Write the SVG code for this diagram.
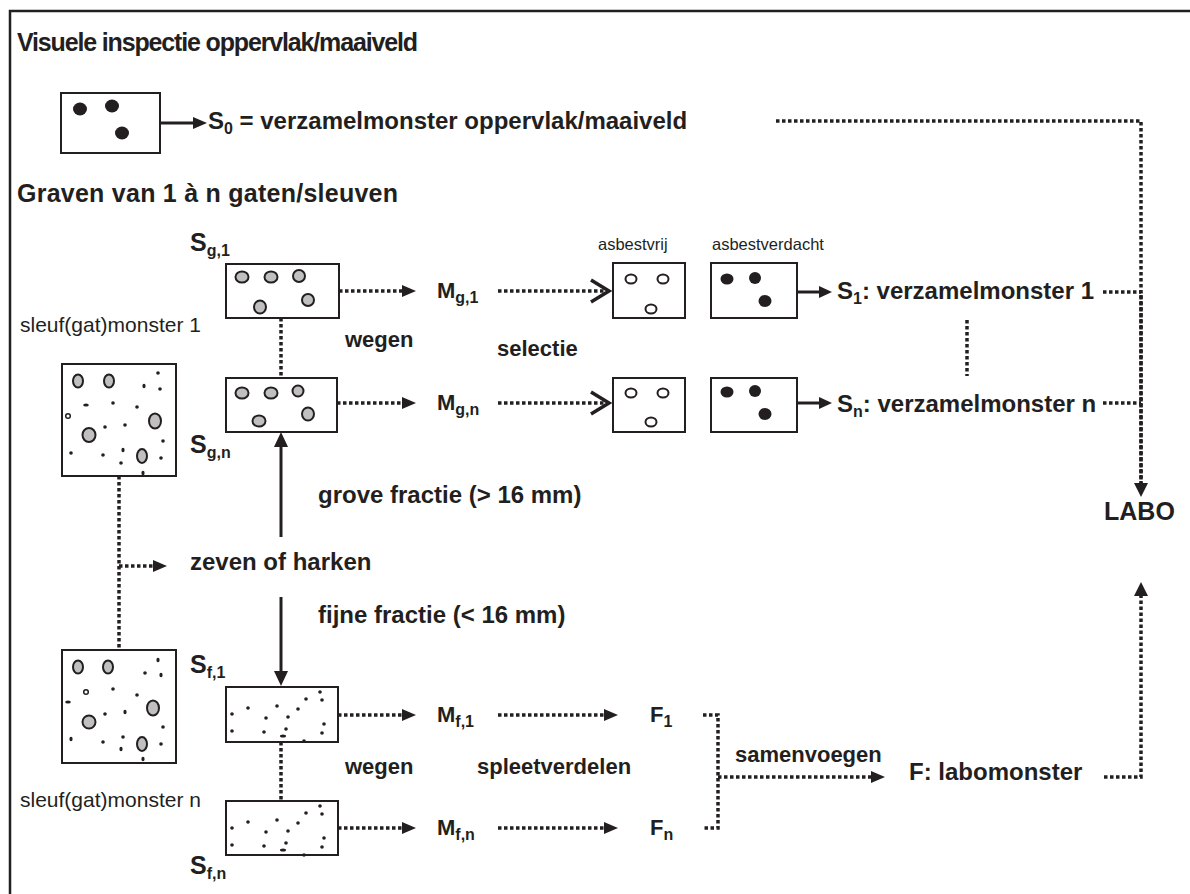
<svg xmlns="http://www.w3.org/2000/svg" width="1190" height="894" viewBox="0 0 1190 894">
<style>
text{font-family:"Liberation Sans",Arial,sans-serif;fill:#231f20}
.t{font-size:25px;font-weight:bold}
.l{font-size:22px;font-weight:bold}
.L{font-size:24px;font-weight:bold}
.n{font-size:16.5px}
.m{font-size:21px}
.sub{font-size:16px}
.box{fill:#fff;stroke:#231f20;stroke-width:2}
.g{fill:#c0c0c0;stroke:#231f20;stroke-width:2}
.o{fill:#fff;stroke:#231f20;stroke-width:2}
.k{fill:#231f20}
.dot{fill:none;stroke:#231f20;stroke-width:3.5;stroke-dasharray:3.5 2.5}
.sol{fill:none;stroke:#231f20;stroke-width:3}
.chev{fill:none;stroke:#231f20;stroke-width:3.5}
.ah{fill:#231f20}
</style>
<defs>
<g id="fine">
<circle cx="6" cy="27" r="1.8"/><circle cx="22" cy="21" r="1.8"/><circle cx="51" cy="19" r="1.8"/>
<circle cx="40" cy="31" r="1.8"/><circle cx="62" cy="30" r="1.8"/><circle cx="72" cy="22" r="1.8"/>
<circle cx="80" cy="12" r="1.8"/><circle cx="94" cy="5" r="1.8"/><circle cx="96" cy="13" r="1.8"/>
<circle cx="6" cy="44" r="1.8"/><circle cx="38" cy="45" r="1.8"/><circle cx="60" cy="42" r="1.8"/>
<ellipse cx="57" cy="49" rx="3" ry="1.5"/><circle cx="78" cy="54" r="1.8"/><circle cx="98" cy="37" r="1.8"/>
<circle cx="96" cy="46" r="1.8"/>
</g>
</defs>
<rect width="1190" height="894" fill="#fff"/>
<path d="M10,894 V11 H1190" fill="none" stroke="#231f20" stroke-width="2.5"/>

<text x="17" y="51" class="t" textLength="401" lengthAdjust="spacing">Visuele inspectie oppervlak/maaiveld</text>
<text x="17" y="202" class="t" textLength="381" lengthAdjust="spacing">Graven van 1 à n gaten/sleuven</text>

<g id="s0">
<rect x="61" y="93" width="99" height="60" class="box"/>
<ellipse cx="80" cy="109" rx="7" ry="6.5" class="k"/>
<ellipse cx="112" cy="106" rx="7" ry="6.5" class="k"/>
<ellipse cx="122" cy="133" rx="7" ry="6.5" class="k"/>
</g>
<g id="s0-label"><text x="208" y="129" class="L">S<tspan class="sub" dy="5">0</tspan><tspan dy="-5"> = verzamelmonster oppervlak/maaiveld</tspan></text></g>

<g id="sg1">
<text x="190" y="251" class="t">S<tspan class="sub" dy="5">g,1</tspan></text>
<rect x="226" y="264" width="113" height="54" class="box"/>
<ellipse cx="242" cy="277" rx="6.5" ry="5.5" class="g"/>
<ellipse cx="271" cy="277" rx="6.5" ry="5.5" class="g"/>
<ellipse cx="299" cy="276" rx="6" ry="6" class="g"/>
<ellipse cx="260" cy="307" rx="6" ry="6.5" class="g"/>
<ellipse cx="308" cy="300" rx="6" ry="6" class="g"/>
</g>
<g id="sgn">
<text x="190" y="453" class="t">S<tspan class="sub" dy="5">g,n</tspan></text>
<rect x="226" y="378" width="111" height="54" class="box"/>
<ellipse cx="242" cy="393" rx="6.5" ry="5.5" class="g"/>
<ellipse cx="271" cy="393" rx="6.5" ry="5.5" class="g"/>
<ellipse cx="298" cy="391" rx="5.5" ry="5.5" class="g"/>
<ellipse cx="259" cy="421" rx="6.5" ry="5.5" class="g"/>
<ellipse cx="308" cy="414" rx="6" ry="6.5" class="g"/>
</g>

<g id="sleuf1">
<text x="20" y="332" class="m">sleuf(gat)monster 1</text>
<rect x="62" y="364" width="114" height="112" class="box"/>
<ellipse cx="78" cy="381" rx="5" ry="6.5" class="g"/>
<ellipse cx="109" cy="381" rx="5" ry="6.5" class="g"/>
<ellipse cx="155" cy="421" rx="6" ry="7.5" class="g"/>
<ellipse cx="89" cy="435" rx="6.5" ry="7" class="g"/>
<ellipse cx="142" cy="456" rx="5" ry="7" class="g"/>
<circle cx="68" cy="416" r="2.3" class="o" style="stroke-width:1.5"/>
<g class="k">
<circle cx="158" cy="373" r="1.8"/><ellipse cx="144" cy="386" rx="1.6" ry="2.3"/><circle cx="160" cy="389" r="1.8"/>
<ellipse cx="86" cy="405" rx="2.8" ry="1.6"/><circle cx="113" cy="403" r="1.8"/><circle cx="137" cy="407" r="1.8"/>
<circle cx="105" cy="427" r="1.8"/><circle cx="125" cy="425" r="1.8"/><circle cx="163" cy="441" r="1.8"/>
<circle cx="71" cy="453" r="1.8"/><circle cx="103" cy="455" r="1.8"/><ellipse cx="123" cy="450" rx="1.6" ry="2.3"/>
<circle cx="121" cy="463" r="1.8"/><circle cx="161" cy="458" r="1.8"/><ellipse cx="143" cy="473" rx="1.6" ry="2.3"/>
</g>
</g>

<g id="sleufn">
<rect x="62" y="650" width="114" height="113" class="box"/>
<ellipse cx="78" cy="667" rx="5" ry="6.5" class="g"/>
<ellipse cx="108" cy="667" rx="5" ry="6.5" class="g"/>
<ellipse cx="153" cy="708" rx="6" ry="7.5" class="g"/>
<ellipse cx="89" cy="722" rx="6.5" ry="6.5" class="g"/>
<ellipse cx="142" cy="744" rx="5" ry="7" class="g"/>
<circle cx="86" cy="692" r="2.3" class="o" style="stroke-width:1.5"/>
<g class="k">
<ellipse cx="158" cy="660" rx="1.6" ry="2.3"/><circle cx="145" cy="673" r="1.8"/><ellipse cx="161" cy="675" rx="1.6" ry="2.3"/>
<circle cx="113" cy="689" r="1.8"/><circle cx="137" cy="695" r="1.8"/>
<ellipse cx="68" cy="702" rx="2.8" ry="1.6"/><circle cx="105" cy="714" r="1.8"/><ellipse cx="125" cy="712" rx="1.6" ry="2.3"/>
<circle cx="163" cy="727" r="1.8"/><ellipse cx="71" cy="739" rx="1.6" ry="2.3"/><circle cx="103" cy="742" r="1.8"/>
<circle cx="123" cy="737" r="1.8"/><ellipse cx="121" cy="749" rx="1.6" ry="2.3"/><circle cx="161" cy="744" r="1.8"/>
<ellipse cx="143" cy="759" rx="1.6" ry="2.3"/>
</g>
<text x="20" y="807" class="m">sleuf(gat)monster n</text>
</g>

<g id="sf1">
<text x="190" y="673" class="t">S<tspan class="sub" dy="5">f,1</tspan></text>
<rect x="226" y="687" width="112" height="55" class="box"/>
<use href="#fine" x="226" y="687" class="k"/>
</g>
<g id="sfn">
<rect x="226" y="801" width="112" height="54" class="box"/>
<use href="#fine" x="226" y="801" class="k"/>
<text x="190" y="874" class="t">S<tspan class="sub" dy="5">f,n</tspan></text>
</g>

<g id="zeven"><text x="190" y="570" class="L">zeven of harken</text></g>
<g id="grove"><text x="318" y="503" class="L">grove fractie (&gt; 16 mm)</text></g>
<g id="fijne"><text x="318" y="623" class="L">fijne fractie (&lt; 16 mm)</text></g>

<g id="mg1"><text x="437" y="298" class="l">M<tspan class="sub" dy="5">g,1</tspan></text></g>
<g id="mgn"><text x="437" y="410" class="l">M<tspan class="sub" dy="5">g,n</tspan></text></g>
<g id="mf1"><text x="437" y="722" class="l">M<tspan class="sub" dy="5">f,1</tspan></text></g>
<g id="mfn"><text x="437" y="835" class="l">M<tspan class="sub" dy="5">f,n</tspan></text></g>
<g id="f1"><text x="650" y="722" class="l">F<tspan class="sub" dy="5">1</tspan></text></g>
<g id="fn"><text x="650" y="835" class="l">F<tspan class="sub" dy="5">n</tspan></text></g>

<g id="labels">
<text x="345" y="347" class="l">wegen</text>
<text x="497" y="356" class="l">selectie</text>
<text x="345" y="774" class="l">wegen</text>
<text x="477" y="774" class="l">spleetverdelen</text>
<text x="735" y="762" class="l">samenvoegen</text>
<text x="598" y="250" class="n">asbestvrij</text>
<text x="712" y="250" class="n">asbestverdacht</text>
</g>

<g id="vrij1">
<rect x="613" y="263" width="72" height="55" class="box"/>
<ellipse cx="631" cy="279" rx="5.5" ry="4.5" class="o"/>
<ellipse cx="663" cy="279" rx="5.5" ry="4.5" class="o"/>
<ellipse cx="651" cy="309" rx="5.5" ry="4.5" class="o"/>
</g>
<g id="vrijn">
<rect x="613" y="378" width="72" height="54" class="box"/>
<ellipse cx="631" cy="393" rx="5.5" ry="4.5" class="o"/>
<ellipse cx="663" cy="393" rx="5.5" ry="4.5" class="o"/>
<ellipse cx="651" cy="422" rx="5.5" ry="4.5" class="o"/>
</g>
<g id="verd1">
<rect x="711" y="263" width="86" height="55" class="box"/>
<ellipse cx="727" cy="279" rx="6.5" ry="5.5" class="k"/>
<ellipse cx="755" cy="278" rx="6" ry="6" class="k"/>
<ellipse cx="765" cy="301" rx="6.5" ry="6" class="k"/>
</g>
<g id="verdn">
<rect x="711" y="378" width="86" height="54" class="box"/>
<ellipse cx="727" cy="392" rx="6.5" ry="5.5" class="k"/>
<ellipse cx="755" cy="391" rx="6" ry="6" class="k"/>
<ellipse cx="765" cy="414" rx="6.5" ry="6" class="k"/>
</g>

<g id="s1"><text x="837" y="299" class="L">S<tspan class="sub" dy="5">1</tspan><tspan dy="-5">: verzamelmonster 1</tspan></text></g>
<g id="sn"><text x="837" y="412" class="L">S<tspan class="sub" dy="5">n</tspan><tspan dy="-5">: verzamelmonster n</tspan></text></g>
<g id="labomonster"><text x="909" y="780" class="L">F: labomonster</text></g>
<g id="labo"><text x="1104" y="520" class="t">LABO</text></g>

<g id="connectors">
<path d="M160,123 H195" class="sol"/>
<path d="M193,117 L207,123 L193,129 Z" class="ah"/>
<path d="M776,121 H1141 V484" class="dot"/>
<path d="M1141,292 V484" class="dot" style="stroke-dashoffset:3"/>
<path d="M1134,483 L1141,497 L1148,483 Z" class="ah"/>
<path d="M1103,292 H1141" class="dot"/>
<path d="M1103,403 H1141" class="dot"/>
<path d="M1104,777 H1141 V596" class="dot"/>
<path d="M1134,596 L1141,582 L1148,596 Z" class="ah"/>
<path d="M281,318 V378" class="dot"/>
<path d="M281,537 V446" class="sol"/>
<path d="M274,447 L281,432 L288,447 Z" class="ah"/>
<path d="M281,597 V672" class="sol"/>
<path d="M274,671 L281,686 L288,671 Z" class="ah"/>
<path d="M281,742 V801" class="dot"/>
<path d="M119,476 V650" class="dot"/>
<path d="M119,566 H154" class="dot"/>
<path d="M153,560 L167,566 L153,572 Z" class="ah"/>
<path d="M339,291 H403" class="dot"/>
<path d="M402,285 L416,291 L402,297 Z" class="ah"/>
<path d="M337,403 H403" class="dot"/>
<path d="M402,397 L416,403 L402,409 Z" class="ah"/>
<path d="M498,291 H605" class="dot"/>
<path d="M591,280 L609,291 L591,302" class="chev"/>
<path d="M498,403 H605" class="dot"/>
<path d="M591,392 L609,403 L591,414" class="chev"/>
<path d="M797,292 H820" class="sol"/>
<path d="M819,286 L832,292 L819,298 Z" class="ah"/>
<path d="M797,403 H820" class="sol"/>
<path d="M819,397 L832,403 L819,409 Z" class="ah"/>
<path d="M967,320 V376" class="dot"/>
<path d="M338,715 H403" class="dot"/>
<path d="M402,709 L416,715 L402,721 Z" class="ah"/>
<path d="M338,828 H403" class="dot"/>
<path d="M402,822 L416,828 L402,834 Z" class="ah"/>
<path d="M498,715 H605" class="dot"/>
<path d="M604,709 L618,715 L604,721 Z" class="ah"/>
<path d="M498,828 H605" class="dot"/>
<path d="M604,822 L618,828 L604,834 Z" class="ah"/>
<path d="M703,715 H718 V828 H703" class="dot"/>
<path d="M718,777 H872" class="dot"/>
<path d="M871,771 L885,777 L871,783 Z" class="ah"/>
</g>
</svg>
